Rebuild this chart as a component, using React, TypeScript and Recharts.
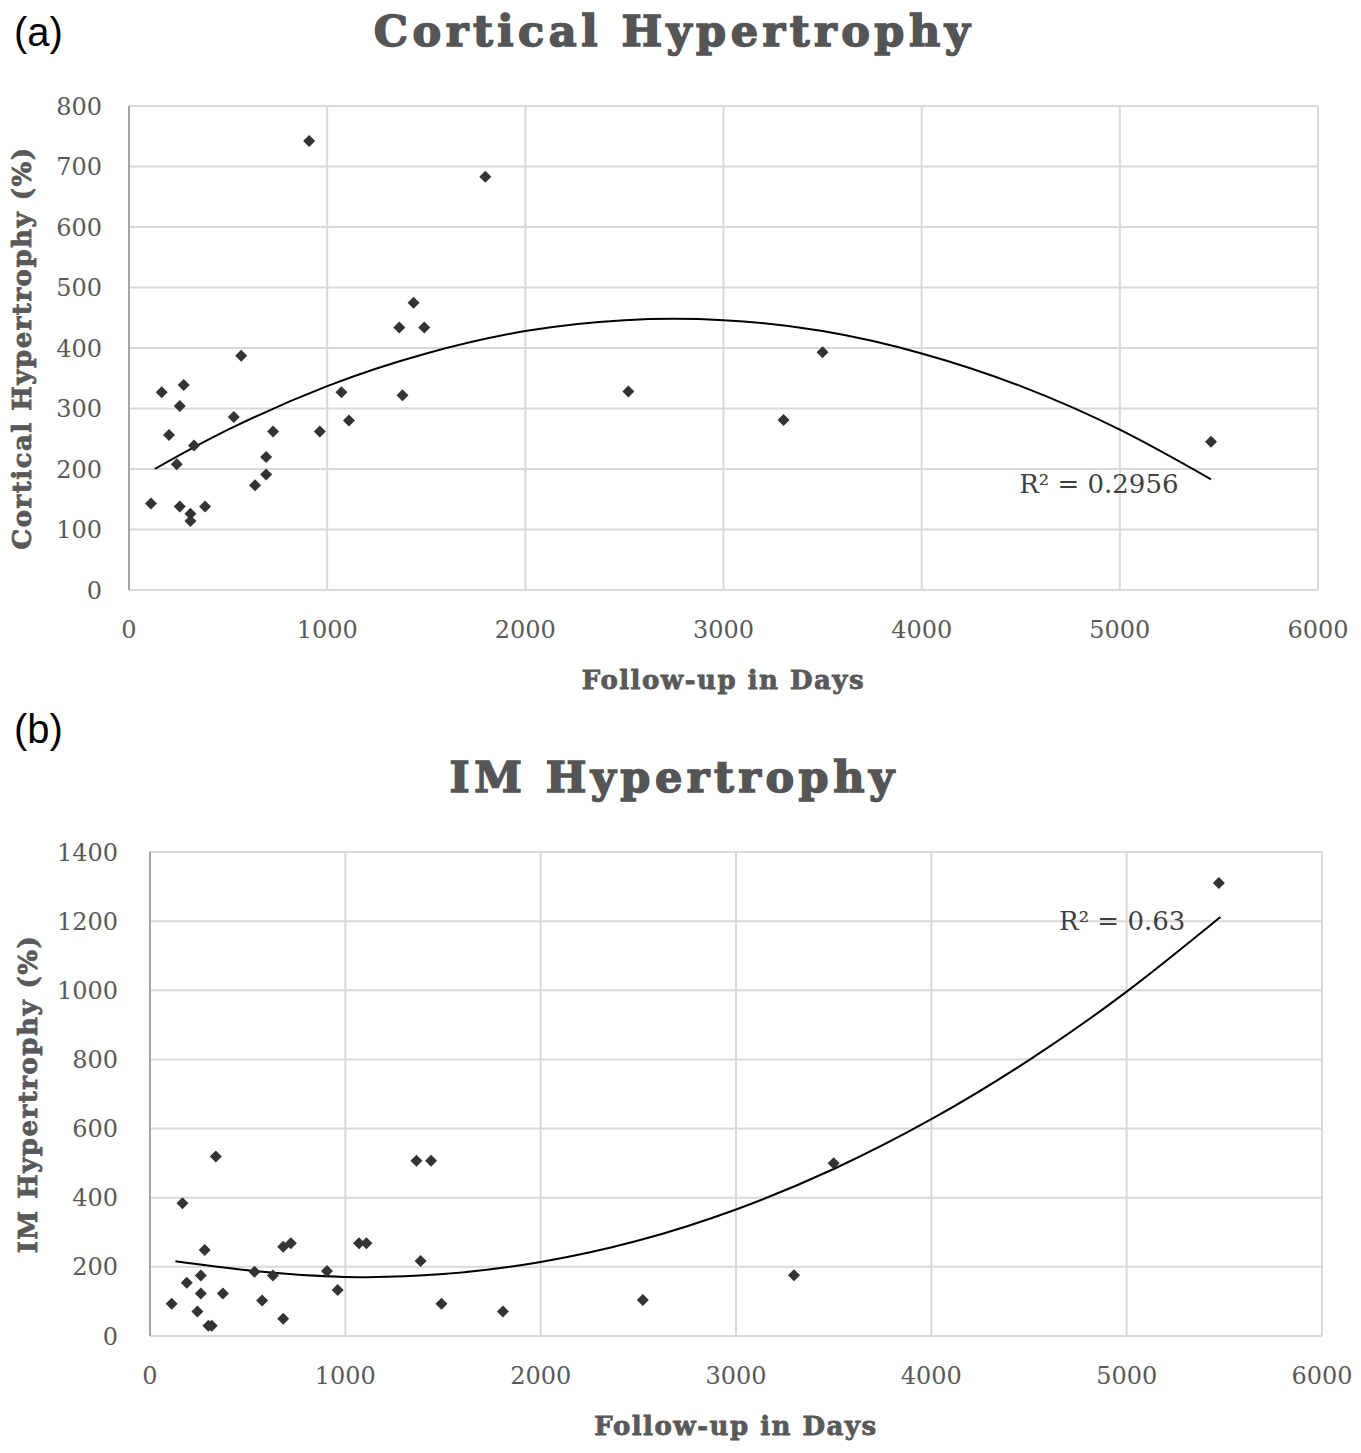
import React from 'react';
import { ComposedChart, Scatter, Line, XAxis, YAxis, CartesianGrid, ReferenceDot } from 'recharts';

// cortical hypertrophy (a)
const corticalDays = [111, 165, 276, 256, 202, 328, 241, 256, 310, 310, 384, 566, 529, 727, 692, 692, 636, 909, 963, 1072, 1110, 1364, 1436, 1490, 1380, 1798, 2520, 3303, 3500, 5460];
const corticalPct = [143, 327, 339, 304, 256, 239, 208, 138, 126, 114, 138, 387, 286, 262, 220, 191, 173, 742, 262, 327, 280, 434, 475, 434, 322, 683, 328, 281, 393, 245];
const corticalTrendDays = [130, 500, 1000, 1500, 2000, 2500, 3000, 3500, 4000, 4500, 5000, 5460];
const corticalTrendPct = [200, 265, 337, 391, 428, 446, 446, 428, 391, 337, 265, 183];

// IM hypertrophy (b)
const imDays = [337, 166, 280, 260, 188, 260, 373, 111, 243, 299, 316, 535, 629, 574, 682, 721, 682, 906, 961, 1070, 1108, 1364, 1439, 1385, 1492, 1807, 2523, 3297, 3500, 5472];
const imPct = [519, 384, 249, 175, 154, 123, 123, 93, 71, 30, 30, 186, 175, 103, 258, 268, 50, 188, 133, 268, 268, 507, 507, 217, 93, 71, 104, 176, 500, 1310];
const imTrendDays = [130, 500, 1000, 1500, 2000, 2500, 3000, 3500, 4000, 4500, 5000, 5480];
const imTrendPct = [216, 190, 171, 179, 214, 276, 366, 483, 627, 798, 996, 1212];

const dayTicks = [0, 1000, 2000, 3000, 4000, 5000, 6000];
const corticalTicks = [0, 100, 200, 300, 400, 500, 600, 700, 800];
const imTicks = [0, 200, 400, 600, 800, 1000, 1200, 1400];

const zip = (xs: number[], ys: number[]) => xs.map((x, i) => ({ x, y: ys[i] }));

const serif = 'DejaVu Serif';
const tickStyle = { fill: '#595959', fontSize: 24, fontFamily: serif };
const axisTitleStyle = {
    fill: '#595959',
    stroke: '#595959',
    strokeWidth: 0.8,
    fontSize: 26,
    fontFamily: serif,
    fontWeight: 'bold' as const,
    letterSpacing: 1.5,
};

const Diamond = (props: any) => {
    const { cx, cy } = props;
    if (cx == null || cy == null) return null;
    const s = 6;
    return <polygon points={`${cx},${cy - s} ${cx + s},${cy} ${cx},${cy + s} ${cx - s},${cy}`} fill="#333333" />;
};

interface PanelProps {
    top: number;
    left: number;
    right: number;
    yMax: number;
    yTicks: number[];
    points: { x: number; y: number }[];
    trend: { x: number; y: number }[];
    yTitle: string;
    yTitleOffset: number;
    tickGap: number;
    r2: string;
    r2At: { x: number; y: number };
}

const Panel: React.FunctionComponent<PanelProps> = (p) => (
    <div style={{ position: 'absolute', left: 0, top: p.top }}>
        <ComposedChart width={1361} height={700} margin={{ top: 106, right: p.right, left: 0, bottom: 0 }}>
            <CartesianGrid stroke="#d9d9d9" strokeWidth={2} />
            <XAxis
                type="number"
                dataKey="x"
                domain={[0, 6000]}
                ticks={dayTicks}
                interval={0}
                height={110}
                tickSize={0}
                tickMargin={31}
                tick={tickStyle}
                axisLine={{ stroke: '#d9d9d9', strokeWidth: 2 }}
                label={{ value: 'Follow-up in Days', position: 'insideBottom', offset: 11, style: axisTitleStyle }}
            />
            <YAxis
                type="number"
                dataKey="y"
                domain={[0, p.yMax]}
                ticks={p.yTicks}
                interval={0}
                width={p.left}
                tickSize={0}
                tickMargin={p.tickGap}
                tick={tickStyle}
                axisLine={{ stroke: '#a6a6a6', strokeWidth: 2 }}
                label={{ value: p.yTitle, angle: -90, position: 'insideLeft', offset: p.yTitleOffset, style: { ...axisTitleStyle, textAnchor: 'middle' } }}
            />
            <Scatter data={p.points} shape={<Diamond />} isAnimationActive={false} />
            <Line data={p.trend} dataKey="y" type="natural" stroke="#000000" strokeWidth={2} dot={false} activeDot={false} isAnimationActive={false} />
            <ReferenceDot
                x={p.r2At.x}
                y={p.r2At.y}
                r={0}
                fill="none"
                stroke="none"
                label={{ value: p.r2, position: 'center', style: { fill: '#404040', fontSize: 26, fontFamily: serif } }}
            />
        </ComposedChart>
    </div>
);

const titleStyle: React.CSSProperties = {
    position: 'absolute',
    left: 0,
    width: 1348,
    textAlign: 'center',
    fontFamily: serif,
    fontWeight: 'bold',
    fontSize: 43,
    letterSpacing: 4.5,
    color: '#555555',
    WebkitTextStroke: '1.6px #555555',
    lineHeight: '50px',
};

const letterStyle: React.CSSProperties = {
    position: 'absolute',
    left: 14,
    fontFamily: 'Liberation Sans',
    fontSize: 40,
    color: '#000000',
    lineHeight: '44px',
};

export default function App() {
    return (
        <div style={{ position: 'absolute', left: 0, top: 0, width: 1361, height: 1453, background: '#ffffff', overflow: 'hidden' }}>
            <Panel
                top={0}
                left={129}
                right={43}
                yMax={800}
                yTicks={corticalTicks}
                points={zip(corticalDays, corticalPct)}
                trend={zip(corticalTrendDays, corticalTrendPct)}
                yTitle="Cortical Hypertrophy (%)"
                yTitleOffset={22}
                tickGap={27}
                r2="R² = 0.2956"
                r2At={{ x: 4894, y: 175 }}
            />
            <Panel
                top={746}
                left={150}
                right={39}
                yMax={1400}
                yTicks={imTicks}
                points={zip(imDays, imPct)}
                trend={zip(imTrendDays, imTrendPct)}
                yTitle="IM Hypertrophy (%)"
                yTitleOffset={28}
                tickGap={32}
                r2="R² = 0.63"
                r2At={{ x: 4977, y: 1200 }}
            />
            <div style={{ ...titleStyle, top: 6 }}>Cortical Hypertrophy</div>
            <div style={{ ...titleStyle, top: 752 }}>IM Hypertrophy</div>
            <div style={{ ...letterStyle, top: 10 }}>(a)</div>
            <div style={{ ...letterStyle, top: 707 }}>(b)</div>
        </div>
    );
}
